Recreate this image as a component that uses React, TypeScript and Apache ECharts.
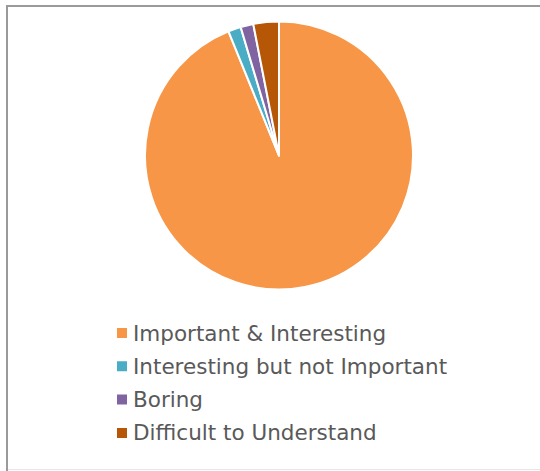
import React, { useEffect, useRef } from "react";
import * as echarts from "echarts";

const categories = [
  "Important & Interesting",
  "Interesting but not Important",
  "Boring",
  "Difficult to Understand",
];
const values = [61, 1, 1, 2];
const colors = ["#F79646", "#4BACC6", "#8064A2", "#B65708"];

export default function App() {
  const ref = useRef<HTMLDivElement>(null);
  useEffect(() => {
    if (!ref.current) return;
    const chart = echarts.init(ref.current, null, { renderer: "svg" });
    chart.setOption({
      animation: false,
      backgroundColor: "#ffffff",
      color: colors,
      legend: {
        orient: "vertical",
        left: 115,
        top: 322,
        padding: 0,
        itemWidth: 12,
        itemHeight: 12,
        itemGap: 11.3,
        icon: "rect",
        data: categories,
        textStyle: {
          fontFamily: "DejaVu Sans",
          fontSize: 21.5,
          lineHeight: 21,
          color: "#595959",
        },
      },
      graphic: [
        { type: "line", shape: { x1: 6, y1: 6, x2: 540, y2: 6 }, style: { stroke: "#9a9a9a", lineWidth: 2 } },
        { type: "line", shape: { x1: 7, y1: 6, x2: 7, y2: 471 }, style: { stroke: "#9a9a9a", lineWidth: 2 } },
        { type: "line", shape: { x1: 8, y1: 469.5, x2: 540, y2: 469.5 }, style: { stroke: "#e6e6e6", lineWidth: 1 } },
      ],
      series: [
        {
          type: "pie",
          center: [279, 155.5],
          radius: [0, 134],
          startAngle: 90,
          clockwise: true,
          label: { show: false },
          labelLine: { show: false },
          itemStyle: { borderColor: "#ffffff", borderWidth: 2 },
          emphasis: { disabled: true },
          data: categories.map((name, i) => ({ name, value: values[i] })),
        },
      ],
    });
    return () => chart.dispose();
  }, []);
  return (
    <div
      ref={ref}
      style={{ position: "absolute", left: 0, top: 0, width: 540, height: 471 }}
    />
  );
}
